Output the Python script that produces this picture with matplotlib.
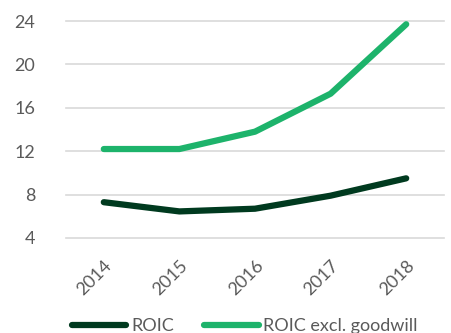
import matplotlib.pyplot as plt

years = ['2014', '2015', '2016', '2017', '2018']
roic = [7.3, 6.45, 6.7, 7.9, 9.5]
roic_excl_goodwill = [12.2, 12.2, 13.8, 17.3, 23.7]
yticks = [4, 8, 12, 16, 20, 24]

dark = '#003a1f'
green = '#1db36b'
grey = '#5a5a5a'

plt.rcParams['font.family'] = ['Lato', 'DejaVu Sans']

fig = plt.figure(figsize=(4.52, 3.33), dpi=100)
ax = fig.add_axes([66/452, 1 - 238/333, (444-66)/452, (238-21)/333])

x = range(len(years))
ax.plot(x, roic, color=dark, lw=4.5, solid_capstyle='round', solid_joinstyle='round', label='ROIC', zorder=3)
ax.plot(x, roic_excl_goodwill, color=green, lw=4.5, solid_capstyle='round', solid_joinstyle='round', label='ROIC excl. goodwill', zorder=3)

ax.set_xlim(-0.5, 4.5)
ax.set_ylim(4, 24)
ax.set_yticks(yticks)
ax.set_xticks(list(x))
ax.set_xticklabels(years, rotation=45, ha='right', va='top', rotation_mode='anchor')
ax.grid(axis='y', color='#d9d9d9', lw=1.2)
ax.set_axisbelow(True)
for s in ax.spines.values():
    s.set_visible(False)
ax.tick_params(length=0, colors=grey, labelsize=13)
ax.tick_params(axis='y', pad=22)
ax.tick_params(axis='x', pad=14)
for g in ax.get_ygridlines():
    g.set_clip_on(False)

leg = fig.legend(loc='lower left', bbox_to_anchor=(65/452, -0.025), ncol=2, frameon=False,
                 fontsize=13, handlelength=3.0, handletextpad=0.25, columnspacing=1.7,
                 borderaxespad=0)
for t in leg.get_texts():
    t.set_color(grey)

fig.savefig('out.png', dpi=100)
